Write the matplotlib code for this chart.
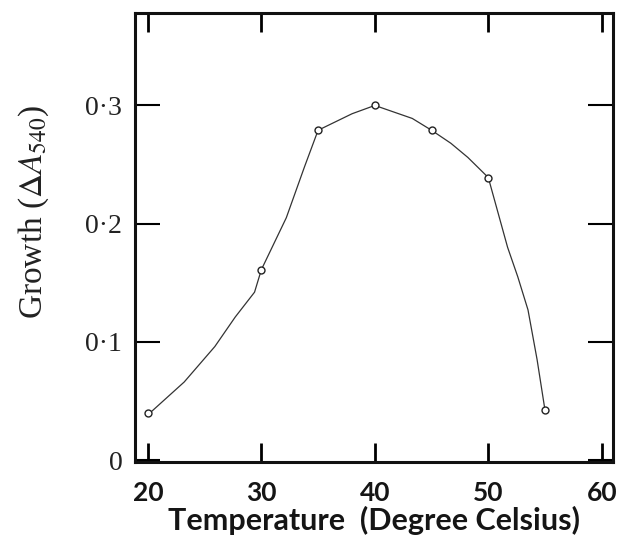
import matplotlib
matplotlib.use("Agg")
import matplotlib.pyplot as plt

# measured points (open circles)
temps = [20, 30, 35, 40, 45, 50, 55]
growth = [0.040, 0.161, 0.279, 0.300, 0.279, 0.239, 0.042]

# hand-drawn curve
curve_t = [20.2, 23.2, 25.9, 27.7, 29.4, 30.0, 32.2, 33.8, 35.0, 36.5, 38.0,
           40.0, 43.3, 45.0, 46.7, 48.2, 50.0, 51.7, 52.6, 53.5, 54.3, 55.0]
curve_g = [0.040, 0.066, 0.096, 0.121, 0.142, 0.161, 0.205, 0.248, 0.279, 0.286, 0.293,
           0.300, 0.289, 0.279, 0.268, 0.256, 0.239, 0.180, 0.155, 0.127, 0.085, 0.042]

x_ticks = [20, 30, 40, 50, 60]
y_ticks = [0, 0.1, 0.2, 0.3]
y_tick_labels = ["0", "0·1", "0·2", "0·3"]

plt.rcParams["mathtext.fontset"] = "stix"

fig = plt.figure(figsize=(6.36, 5.52), dpi=100)
ax = fig.add_axes([0.212, 0.163, 0.752, 0.813])

ax.plot(curve_t, curve_g, color="#333333", lw=0.9)
ax.plot(temps, growth, "o", ms=5, mfc="white", mec="#222222", mew=1.0)

ax.set_xlim(18.85, 61.0)
ax.set_ylim(-0.0017, 0.378)

ax.set_xticks(x_ticks)
ax.set_xticklabels([str(t) for t in x_ticks], fontfamily="Lato",
                   fontweight="bold", fontsize=19, color="#151515")
ax.set_yticks(y_ticks)
ax.set_yticklabels(y_tick_labels, fontfamily="Liberation Serif",
                   fontsize=20, color="#222222")

ax.tick_params(axis="x", direction="in", length=14, width=2,
               top=True, pad=14)
ax.tick_params(axis="y", direction="in", length=18, width=1.5,
               right=True, pad=9)

for side in ["left", "bottom", "top", "right"]:
    ax.spines[side].set_linewidth(2.2)
    ax.spines[side].set_color("#111111")

ax.set_xlabel("Temperature  (Degree Celsius)", fontfamily="Lato",
              fontweight="bold", fontsize=22, color="#151515", labelpad=0)
ax.set_ylabel(r"Growth ($\Delta A_{540}$)", fontfamily="Liberation Serif",
              fontsize=24, color="#222222")
ax.yaxis.set_label_coords(-0.175, 0.557)

fig.savefig("out.png", dpi=100)
